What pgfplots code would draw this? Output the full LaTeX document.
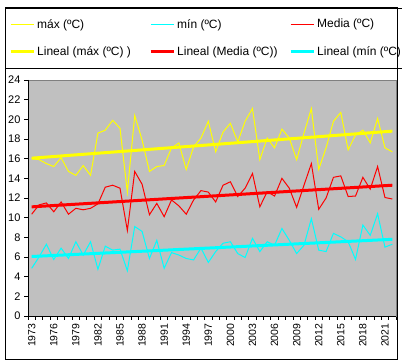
\documentclass[border=0pt]{standalone}
\usepackage{pgfplots}
\pgfplotsset{compat=1.18}
\usepackage{fontspec}
\setmainfont{Liberation Sans}
\definecolor{bgray}{HTML}{C0C0C0}
\definecolor{bord}{HTML}{808080}
\definecolor{xyellow}{HTML}{FFFF00}
\definecolor{xcyan}{HTML}{00FFFF}
\definecolor{xred}{HTML}{FF0000}
\begin{document}
\begin{tikzpicture}[x=1pt,y=1pt]
\useasboundingbox (0,0) rectangle (402,364);
\fill[white] (0,0) rectangle (402,364);
\begin{axis}[
  at={(28pt,48pt)}, anchor=south west,
  scale only axis, width=368pt, height=236pt,
  xmin=1972.5, xmax=2022.5, ymin=0, ymax=24,
  ytick={0,2,...,24},
  xtick={1973,1976,1979,1982,1985,1988,1991,1994,1997,2000,2003,2006,2009,2012,2015,2018,2021},
  xticklabels={1973,1976,1979,1982,1985,1988,1991,1994,1997,2000,2003,2006,2009,2012,2015,2018,2021},
  minor xtick={1972.5,1973.5,...,2022.5},
  tick align=outside, tick pos=left,
  major tick length=4pt, minor tick length=4pt,
  major x tick style={draw=none},
  tick style={black, line width=0.8pt},
  minor tick style={black, line width=0.8pt},
  axis background/.style={fill=bgray},
  axis line style={draw=bord, line width=0.8pt},
  /pgf/number format/assume math mode=true,
  x tick label style={rotate=90, anchor=east, font=\fontsize{10.5}{12}\selectfont},
  y tick label style={font=\fontsize{11}{13}\selectfont},
  legend columns=3,
  legend cell align=left,
  legend image code/.code={\draw[#1] (0pt,0pt) -- (23pt,0pt);},
  legend style={at={(axis description cs:-0.0625,1.305)}, anchor=north west,
    draw=black, fill=white, font=\fontsize{12}{14}\selectfont,
    inner xsep=4pt, inner ysep=9pt, row sep=13pt,
    /tikz/every even column/.append style={column sep=0pt}},
  after end axis/.code={
    \draw[black, line width=0.8pt] (rel axis cs:0,1) -- (rel axis cs:0,0) -- (rel axis cs:1,0);
  },
]
\addplot[xyellow, line width=1pt] coordinates {
(1973,16.0) (1974,15.9) (1975,15.5) (1976,15.2) (1977,16.1) (1978,14.7) (1979,14.3) (1980,15.3) (1981,14.3) (1982,18.6)
(1983,18.9) (1984,19.9) (1985,19.1) (1986,12.6) (1987,20.4) (1988,17.9) (1989,14.7) (1990,15.2) (1991,15.3) (1992,17.1)
(1993,17.6) (1994,14.9) (1995,17.2) (1996,18.1) (1997,19.8) (1998,16.7) (1999,18.7) (2000,19.6) (2001,17.7) (2002,19.8)
(2003,21.1) (2004,15.9) (2005,18.1) (2006,17.1) (2007,19.0) (2008,18.1) (2009,15.9) (2010,18.6) (2011,21.1) (2012,14.9)
(2013,17.1) (2014,19.8) (2015,20.7) (2016,16.9) (2017,18.4) (2018,18.9) (2019,17.6) (2020,20.1) (2021,17.1) (2022,16.7)
};
\addlegendentry{\makebox[110pt][l]{máx (ºC)}}
\addplot[xcyan, line width=1pt] coordinates {
(1973,4.85) (1974,6.0) (1975,7.3) (1976,5.75) (1977,6.9) (1978,5.85) (1979,7.55) (1980,6.2) (1981,7.55) (1982,4.75)
(1983,7.1) (1984,6.7) (1985,6.8) (1986,4.6) (1987,9.1) (1988,8.6) (1989,5.85) (1990,7.7) (1991,4.85) (1992,6.45)
(1993,6.2) (1994,5.85) (1995,5.7) (1996,6.9) (1997,5.45) (1998,6.55) (1999,7.4) (2000,7.55) (2001,6.35) (2002,5.95)
(2003,7.9) (2004,6.55) (2005,7.55) (2006,7.2) (2007,8.9) (2008,7.7) (2009,6.35) (2010,7.2) (2011,9.9) (2012,6.7)
(2013,6.55) (2014,8.4) (2015,8.05) (2016,7.55) (2017,5.75) (2018,9.25) (2019,8.2) (2020,10.4) (2021,7.0) (2022,7.3)
};
\addlegendentry{\makebox[110pt][l]{mín (ºC)}}
\addplot[xred, line width=1pt] coordinates {
(1973,10.35) (1974,11.3) (1975,11.5) (1976,10.6) (1977,11.6) (1978,10.35) (1979,10.95) (1980,10.8) (1981,10.95) (1982,11.4)
(1983,13.1) (1984,13.3) (1985,13.0) (1986,8.7) (1987,14.7) (1988,13.4) (1989,10.3) (1990,11.45) (1991,10.1) (1992,11.8)
(1993,11.2) (1994,10.35) (1995,11.8) (1996,12.75) (1997,12.6) (1998,11.6) (1999,13.3) (2000,13.65) (2001,12.15) (2002,13.0)
(2003,14.5) (2004,11.1) (2005,12.65) (2006,12.2) (2007,14.0) (2008,13.0) (2009,11.05) (2010,13.3) (2011,15.5) (2012,10.85)
(2013,12.0) (2014,14.1) (2015,14.25) (2016,12.15) (2017,12.2) (2018,14.1) (2019,12.9) (2020,15.2) (2021,12.05) (2022,11.9)
};
\addlegendentry{\makebox[110pt][l]{Media (ºC)}}
\addplot[xyellow, line width=3pt] coordinates {(1973,16.05) (2022,18.8)};
\addlegendentry{\makebox[110pt][l]{Lineal (máx (ºC) )}}
\addplot[xred, line width=3pt] coordinates {(1973,11.1) (2022,13.3)};
\addlegendentry{\makebox[110pt][l]{Lineal (Media (ºC))}}
\addplot[xcyan, line width=3pt] coordinates {(1973,6.05) (2022,7.8)};
\addlegendentry{\makebox[110pt][l]{Lineal (mín (ºC)}}
\end{axis}
\draw[black, line width=0.8pt] (5,5) rectangle (397,357);
\end{tikzpicture}
\end{document}
